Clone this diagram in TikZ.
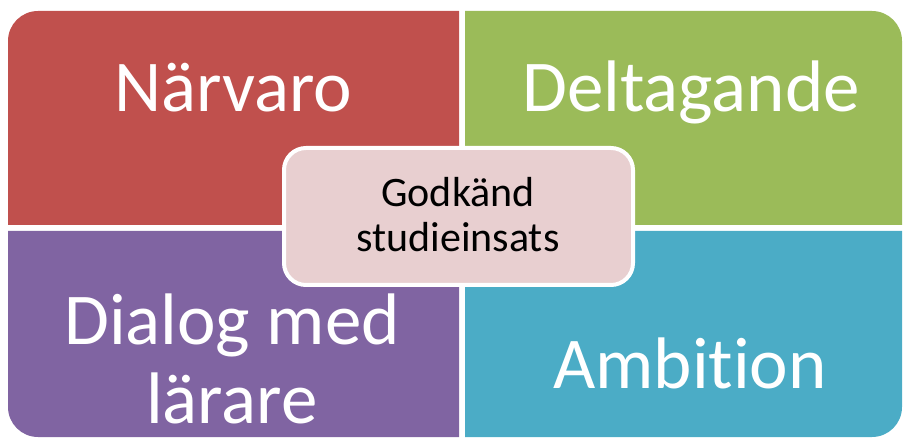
\documentclass[tikz,border=0pt]{standalone}
\usepackage{fontspec}
\setmainfont{Carlito}[Ligatures=NoCommon]
\definecolor{qred}{HTML}{C0504D}
\definecolor{qgreen}{HTML}{9BBB59}
\definecolor{qpurple}{HTML}{8064A2}
\definecolor{qteal}{HTML}{4BACC6}
\definecolor{qpink}{HTML}{E8CFD0}
\tikzset{
  bigtext/.style={text=white, inner sep=0pt, align=center, font=\fontsize{73}{79}\selectfont},
  centertext/.style={text=black, inner sep=0pt, align=center, font=\fontsize{42}{45}\selectfont},
  centerbox/.style={fill=qpink, draw=white, line width=4pt, rounded corners=22pt}
}
\begin{document}
\begin{tikzpicture}[x=1pt,y=-1pt]
\useasboundingbox (0,0) rectangle (905,438);
% quadrants
\fill[qred] (8,225) [rounded corners=30pt] -- (8,11) [sharp corners] -- (459,11) -- (459,225) -- cycle;
\fill[qgreen] (465,225) -- (465,11) [rounded corners=30pt] -- (902,11) [sharp corners] -- (902,225) -- cycle;
\fill[qpurple] (8,231) -- (459,231) -- (459,437) [rounded corners=30pt] -- (8,437) [sharp corners] -- cycle;
\fill[qteal] (465,231) -- (902,231) [rounded corners=30pt] -- (902,437) [sharp corners] -- (465,437) -- cycle;
% labels
\node[bigtext, anchor=base] (narvaro) at (233,112) {Närvaro};
\node[bigtext, anchor=base] (deltagande) at (691,112) {Deltagande};
\node[bigtext, anchor=base] (dialog) at (232,423) {Dialog med\\lärare};
\node[bigtext, anchor=base] (ambition) at (690,388) {Ambition};
% center
\draw[centerbox] (284,148) rectangle (633,285);
\node[centertext, anchor=base] (godkand) at (458,252) {Godkänd\\studieinsats};
\end{tikzpicture}
\end{document}
